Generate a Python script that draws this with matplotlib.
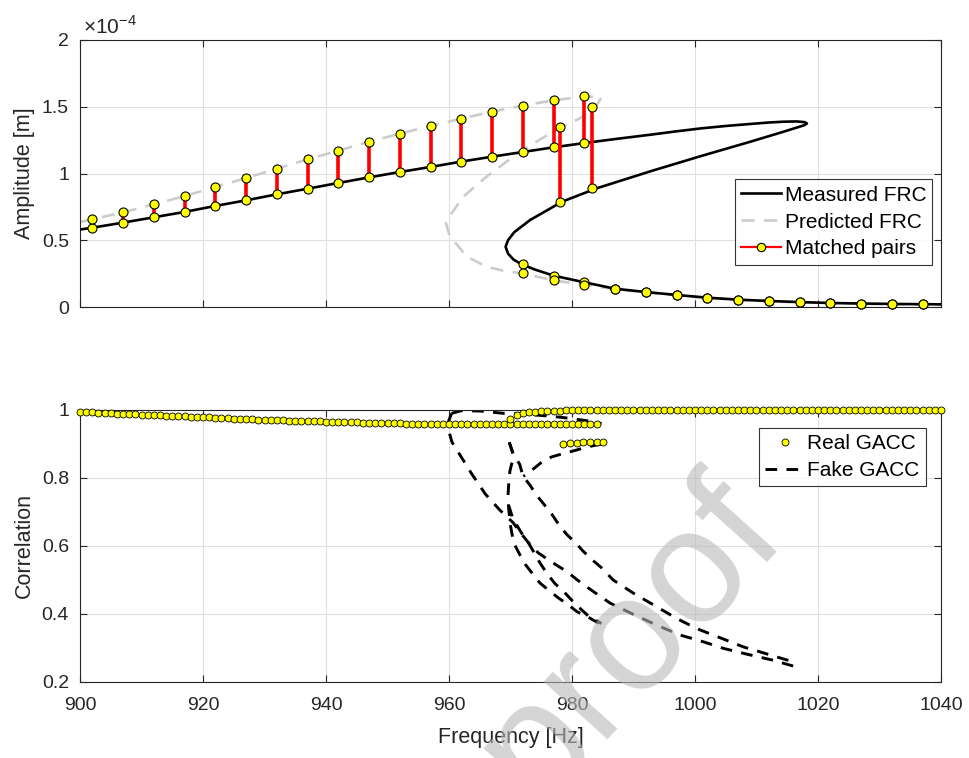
import numpy as np
import matplotlib
matplotlib.use('Agg')
import matplotlib.pyplot as plt
from matplotlib.lines import Line2D

plt.rcParams['font.family'] = ['Liberation Sans', 'DejaVu Sans']
plt.rcParams['mathtext.fontset'] = 'custom'
plt.rcParams['mathtext.rm'] = 'Liberation Sans'

# ---- top: frequency response curves (amplitude in 1e-4 m) ----
meas_f = [900, 902, 907, 912, 917, 922, 927, 932, 937, 942, 947, 952, 957, 962, 967, 972, 977, 982,
          987, 993, 997, 1001, 1005, 1009, 1012, 1014.4, 1016.5, 1017.8, 1018.2,
          1017.8, 1017.1, 1014.4, 1009, 1001, 993, 984, 978.4, 973.2, 970.6, 969.6, 969.2, 969.6,
          970.5, 971.8,
          974, 977, 982, 987, 992, 997, 1002, 1007, 1012, 1017, 1022, 1027, 1032, 1037, 1040]
meas_a = [0.580, 0.594, 0.632, 0.672, 0.712, 0.757, 0.799, 0.844, 0.886, 0.929, 0.971, 1.011, 1.049,
          1.089, 1.126, 1.161, 1.196, 1.228, 1.258, 1.292, 1.316, 1.338, 1.356, 1.371, 1.382, 1.388,
          1.390, 1.385, 1.375,
          1.362, 1.352, 1.313, 1.238, 1.131, 1.020, 0.889, 0.789, 0.652, 0.560, 0.500, 0.452, 0.400,
          0.355, 0.320,
          0.280, 0.235, 0.185, 0.137, 0.112, 0.090, 0.070, 0.055, 0.045, 0.037, 0.030, 0.026, 0.023,
          0.021, 0.020]

pred_f = [900, 902, 907, 912, 917, 922, 927, 932, 937, 942, 947, 952, 957, 962, 967, 972, 977, 982, 984.8,
          983.8, 981.3, 978.4, 975, 971.5, 966.1, 962.3, 960.4, 959.5, 960.0, 960.7, 962.9, 966.1, 969, 971.8,
          977, 982, 987, 992, 997, 1002, 1007, 1012, 1017, 1022, 1027, 1032, 1037, 1040]
pred_a = [0.635, 0.657, 0.709, 0.769, 0.831, 0.899, 0.966, 1.036, 1.106, 1.171, 1.238, 1.298, 1.356,
          1.411, 1.463, 1.508, 1.548, 1.578, 1.571,
          1.496, 1.413, 1.351, 1.260, 1.163, 0.976, 0.826, 0.700, 0.630, 0.550, 0.500, 0.377, 0.302, 0.270, 0.252,
          0.200, 0.165, 0.133, 0.110, 0.088, 0.068, 0.053, 0.043, 0.034, 0.029, 0.024, 0.021, 0.019, 0.018]

# matched pairs: frequency, measured amplitude, predicted amplitude
pair_f = [902, 907, 912, 917, 922, 927, 932, 937, 942, 947, 952, 957, 962, 967, 972, 977, 982,
          978, 983.2,
          972, 977, 982, 987, 992, 997, 1002, 1007, 1012, 1017, 1022, 1027, 1032, 1037]
pair_m = [0.594, 0.632, 0.672, 0.712, 0.757, 0.799, 0.844, 0.886, 0.929, 0.971, 1.011, 1.049, 1.089,
          1.126, 1.161, 1.196, 1.228,
          0.789, 0.889,
          0.320, 0.235, 0.185, 0.135, 0.112, 0.090, 0.070, 0.055, 0.045, 0.035, 0.030, 0.025, 0.022, 0.020]
pair_p = [0.657, 0.709, 0.769, 0.831, 0.899, 0.966, 1.036, 1.106, 1.171, 1.238, 1.298, 1.356, 1.411,
          1.463, 1.508, 1.548, 1.578,
          1.351, 1.496,
          0.252, 0.200, 0.165, 0.133, 0.110, 0.088, 0.068, 0.053, 0.043, 0.034, 0.029, 0.024, 0.021, 0.019]

# ---- bottom: correlation ----
real_up_f = np.arange(900, 985)
real_up_c = [0.994, 0.993, 0.993, 0.992, 0.991, 0.990, 0.989, 0.989, 0.988, 0.987,
             0.986, 0.986, 0.985, 0.984, 0.983, 0.983, 0.982, 0.981, 0.980, 0.980,
             0.979, 0.978, 0.977, 0.977, 0.976, 0.975, 0.974, 0.974, 0.973, 0.972,
             0.971, 0.971, 0.970, 0.970, 0.969, 0.969, 0.968, 0.968, 0.967, 0.967,
             0.966, 0.966, 0.965, 0.965, 0.964, 0.964, 0.963, 0.963, 0.962, 0.962,
             0.961, 0.961, 0.961, 0.960, 0.960, 0.960, 0.959, 0.959, 0.959, 0.959,
             0.958, 0.958, 0.958, 0.958, 0.958, 0.958, 0.958, 0.958, 0.958, 0.958,
             0.958, 0.958, 0.958, 0.958, 0.958, 0.958, 0.958, 0.958, 0.958, 0.958,
             0.958, 0.958, 0.958, 0.959, 0.959]
real_lo_f = np.arange(970, 1041)
real_lo_c = [0.975, 0.985, 0.990, 0.993, 0.995, 0.996, 0.997, 0.998, 0.998, 0.999,
             0.999, 0.999, 0.999, 0.999, 0.999, 1.000, 1.000, 1.000, 1.000, 1.000,
             1.000, 1.000, 1.000, 1.000, 1.000, 1.000, 1.000, 1.000, 1.000, 1.000,
             1.000, 1.000, 1.000, 1.000, 1.000, 1.000, 1.000, 1.000, 1.000, 1.000,
             1.000, 1.000, 1.000, 1.000, 1.000, 1.000, 1.000, 1.000, 1.000, 1.000,
             1.000, 1.000, 1.000, 1.000, 1.000, 1.000, 1.000, 1.000, 1.000, 1.000,
             1.000, 1.000, 1.000, 1.000, 1.000, 1.000, 1.000, 1.000, 1.000, 1.000,
             1.000]
real_mid_f = [978.6, 979.7, 980.8, 981.8, 982.9, 984.0, 985.0]
real_mid_c = [0.901, 0.903, 0.904, 0.905, 0.906, 0.906, 0.906]

fake_curves = [
    ([960.4, 962.0, 965.0, 969.0, 972.0, 975.0, 978.5, 981.0, 983.0, 984.8],
     [0.990, 0.998, 0.997, 0.990, 0.988, 0.984, 0.978, 0.972, 0.967, 0.960]),
    ([960.4, 959.9, 960.0, 960.5, 961.5, 963.7, 965.9, 968.3, 970.4, 971.8, 972.9, 974.5, 976.1,
      977.8, 979.1, 980.8, 983.0, 986.2, 989.4, 993.8, 997.6, 1001.4, 1004.6, 1008.4, 1012.7, 1016.5],
     [0.990, 0.965, 0.936, 0.905, 0.876, 0.812, 0.753, 0.705, 0.669, 0.635, 0.610, 0.580, 0.560,
      0.540, 0.526, 0.501, 0.472, 0.432, 0.404, 0.367, 0.338, 0.318, 0.299, 0.282, 0.264, 0.244]),
    ([969.8, 970.4, 971.5, 972.0, 973.2, 974.3, 975.6, 976.7, 978.0, 979.1, 980.8, 981.8,
      983.5, 984.8, 986.7, 990.0, 993.8, 997.0, 1000.3, 1004.1, 1007.9, 1011.6, 1016.0],
     [0.905, 0.872, 0.840, 0.807, 0.778, 0.748, 0.719, 0.694, 0.659, 0.635, 0.605, 0.585,
      0.556, 0.536, 0.500, 0.461, 0.421, 0.387, 0.357, 0.330, 0.303, 0.283, 0.259]),
    ([984.8, 982.4, 980.5, 978.6, 976.7, 975.1, 973.4, 972.1],
     [0.900, 0.891, 0.881, 0.872, 0.862, 0.847, 0.822, 0.805]),
    ([969.8, 970.4, 970.3, 969.9, 969.7, 969.6, 969.7, 970.0, 970.5, 971.5, 972.4, 973.7, 974.8,
      976.4, 977.8, 979.4, 980.8, 982.9, 984.8],
     [0.905, 0.872, 0.850, 0.820, 0.780, 0.750, 0.710, 0.660, 0.610, 0.575, 0.546, 0.516, 0.491,
      0.467, 0.447, 0.427, 0.407, 0.388, 0.368]),
    ([969.7, 970.4, 971.8, 972.9, 974.8, 975.9, 977.2, 978.6, 980.5, 982.6, 984.8],
     [0.720, 0.680, 0.638, 0.610, 0.550, 0.520, 0.490, 0.467, 0.430, 0.395, 0.372]),
]

txt = '#262626'
grid_c = '#e0e0e0'

fig = plt.figure(figsize=(9.7, 7.58), dpi=100)
ax1 = fig.add_axes([80 / 970, 1 - 307 / 758, 861 / 970, 267 / 758])
ax2 = fig.add_axes([80 / 970, 1 - 682 / 758, 861 / 970, 272 / 758])

# top panel
ax1.plot(meas_f, meas_a, color='k', lw=1.9, zorder=3)
ax1.plot(pred_f, pred_a, color='#cccccc', lw=1.9, ls=(0, (5, 3.5)), zorder=2)
for f, m, p in zip(pair_f, pair_m, pair_p):
    ax1.plot([f, f], [m, p], color='r', lw=2.6, marker='o', ms=6.5, mfc='#ffff00', mec='k',
             mew=0.8, zorder=4, clip_on=False)

ax1.set_xlim(900, 1040)
ax1.set_ylim(0, 2)
ax1.set_xticks(np.arange(900, 1041, 20))
ax1.set_yticks([0, 0.5, 1, 1.5, 2])
ax1.set_yticklabels(['0', '0.5', '1', '1.5', '2'])
ax1.tick_params(labelbottom=False)
ax1.set_ylabel('Amplitude [m]', fontsize=15.5, color=txt)
ax1.text(0.004, 1.01, r'$\times$10$^{\mathregular{-4}}$', transform=ax1.transAxes, fontsize=15,
         color=txt, va='bottom', ha='left')

h1 = [Line2D([], [], color='k', lw=1.9),
      Line2D([], [], color='#cccccc', lw=1.9, ls=(0, (5, 3.5))),
      Line2D([], [], color='r', lw=1.6, marker='o', ms=6, mfc='#ffff00', mec='k', mew=0.8)]
leg1 = ax1.legend(h1, ['Measured FRC', 'Predicted FRC', 'Matched pairs'], loc='upper right',
                  bbox_to_anchor=(0.99, 0.478), fontsize=15, frameon=True, fancybox=False,
                  edgecolor='k', handlelength=1.95, handletextpad=0.15, borderpad=0.3,
                  labelspacing=0.38, borderaxespad=0)
leg1.get_frame().set_linewidth(0.8)

# bottom panel
for fx, cy in fake_curves:
    ax2.plot(fx, cy, color='k', lw=2.1, ls=(0, (4, 3.2)), zorder=2)
for fx, cy in [(real_up_f, real_up_c), (real_lo_f, real_lo_c), (real_mid_f, real_mid_c)]:
    ax2.plot(fx, cy, ls='none', marker='o', ms=5, mfc='#ffff00', mec='k', mew=0.6,
             zorder=3, clip_on=False)

ax2.set_xlim(900, 1040)
ax2.set_ylim(0.2, 1)
ax2.set_xticks(np.arange(900, 1041, 20))
ax2.set_yticks([0.2, 0.4, 0.6, 0.8, 1])
ax2.set_yticklabels(['0.2', '0.4', '0.6', '0.8', '1'])
ax2.set_xlabel('Frequency [Hz]', fontsize=15.5, color=txt)
ax2.set_ylabel('Correlation', fontsize=15.5, color=txt)

h2 = [Line2D([], [], ls='none', marker='o', ms=5, mfc='#ffff00', mec='k', mew=0.6),
      Line2D([], [], color='k', lw=2.1, ls=(0, (4, 3.2)))]
leg2 = ax2.legend(h2, ['Real GACC', 'Fake GACC'], loc='upper right', bbox_to_anchor=(0.982, 0.935),
                  fontsize=15, frameon=True, fancybox=False, edgecolor='k', handlelength=1.85,
                  handletextpad=0.15, borderpad=0.3, labelspacing=0.38, borderaxespad=0)
leg2.get_frame().set_linewidth(0.8)

for ax in (ax1, ax2):
    ax.grid(True, color=grid_c, lw=0.8)
    ax.set_axisbelow(True)
    for s in ax.spines.values():
        s.set_color(txt)
        s.set_linewidth(0.8)
    ax.tick_params(direction='in', length=5, width=0.8, colors=txt, labelsize=14,
                   top=True, right=True)
    ax.tick_params(axis='x', pad=11)
    ax.tick_params(axis='y', pad=8)
    ax.yaxis.set_label_coords(-0.052, 0.5)

ax2.xaxis.labelpad = 9

# watermark
fig.text(630 / 970, 1 - 640 / 758, 'proof', fontsize=117, color='#b8b8b8', alpha=0.6,
         rotation=48, ha='center', va='center', zorder=10)

fig.savefig('out.png', dpi=100)
